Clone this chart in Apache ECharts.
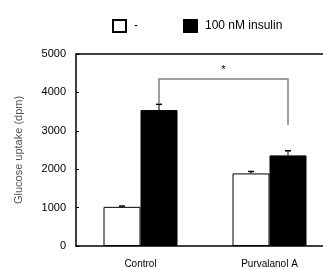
<!DOCTYPE html>
<html>
<head>
<meta charset="utf-8">
<script src="https://cdn.jsdelivr.net/npm/echarts@6/dist/echarts.min.js"></script>
<style>
  html, body { margin: 0; padding: 0; background: #fff; overflow: hidden; }
  #chart { width: 323px; height: 269px; }
</style>
</head>
<body>
<div id="chart"></div>
<script>
// data
const categories = ['Control', 'Purvalanol A'];
const seriesNames = ['-', '100 nM insulin'];
const basal = [1020, 1890];
const basalErr = [20, 50];
const insulin = [3540, 2360];
const insulinErr = [150, 120];
const yTicks = [0, 1000, 2000, 3000, 4000, 5000];
// significance bracket between the two insulin bars
const bracketTop = 4350;
const bracketLegs = [3700, 3150];

const barW = 37;

const chart = echarts.init(document.getElementById('chart'));

// error bars, shifted onto the left (-1) or right (+1) bar of each category
function errRender(side, vals, errs) {
  return function (params, api) {
    const i = api.value(0);
    const top = api.coord([i, vals[i] + errs[i]]);
    const base = api.coord([i, vals[i]]);
    const x = top[0] + side * barW / 2;
    return {
      type: 'group',
      children: [
        { type: 'line', shape: { x1: x, y1: base[1], x2: x, y2: top[1] }, style: { stroke: '#000', lineWidth: 1 } },
        { type: 'line', shape: { x1: x - 3, y1: top[1], x2: x + 3, y2: top[1] }, style: { stroke: '#000', lineWidth: 1.5 } }
      ]
    };
  };
}

function bracketRender(params, api) {
  const l = api.coord([0, bracketTop]);
  const r = api.coord([1, bracketTop]);
  const lx = l[0] + barW / 2;
  const rx = r[0] + barW / 2;
  const lb = api.coord([0, bracketLegs[0]])[1];
  const rb = api.coord([1, bracketLegs[1]])[1];
  return {
    type: 'group',
    children: [
      { type: 'polyline', shape: { points: [[lx, lb], [lx, l[1]], [rx, l[1]], [rx, rb]] }, style: { stroke: '#808080', lineWidth: 1.5, fill: null } },
      { type: 'text', style: { text: '*', x: (lx + rx) / 2, y: l[1] - 3, align: 'center', verticalAlign: 'bottom', fill: '#000', font: '11px "Liberation Sans", Arial' } }
    ]
  };
}

const option = {
  animation: false,
  textStyle: { fontFamily: '"Liberation Sans", Arial, sans-serif' },
  legend: {
    top: 19,
    left: 112,
    padding: 0,
    icon: 'rect',
    itemWidth: 13,
    itemHeight: 12,
    itemGap: 45,
    textStyle: { fontSize: 12, color: '#000', padding: [0, 0, 0, 3] },
    data: seriesNames
  },
  grid: {
    left: 76,
    right: -11,
    top: 54,
    bottom: 23,
    outerBoundsMode: 'none'
  },
  xAxis: [
    {
      type: 'category',
      data: categories,
      axisLine: { lineStyle: { color: '#000', width: 1.5 } },
      axisTick: { show: false },
      axisLabel: { color: '#000', fontSize: 10, margin: 13 }
    },
    {
      // top frame line only
      type: 'category',
      data: categories,
      position: 'top',
      axisLine: { lineStyle: { color: '#000', width: 1.5 } },
      axisTick: { show: false },
      axisLabel: { show: false }
    }
  ],
  yAxis: {
    type: 'value',
    min: yTicks[0],
    max: yTicks[yTicks.length - 1],
    interval: 1000,
    name: 'Glucose uptake (dpm)',
    nameLocation: 'middle',
    nameGap: 52,
    nameTextStyle: { color: '#555', fontSize: 11 },
    axisLine: { show: true, lineStyle: { color: '#000', width: 1.5 } },
    axisTick: { show: true, inside: true, length: 3, lineStyle: { color: '#000' } },
    axisLabel: { color: '#000', fontSize: 11, margin: 10, formatter: v => String(v) },
    splitLine: { show: false }
  },
  series: [
    {
      name: seriesNames[0],
      type: 'bar',
      data: basal,
      barWidth: barW,
      barGap: '0%',
      itemStyle: { color: '#fff', borderColor: '#000', borderWidth: 1 }
    },
    {
      name: seriesNames[1],
      type: 'bar',
      data: insulin,
      barWidth: barW,
      barGap: '0%',
      itemStyle: { color: '#000', borderColor: '#000', borderWidth: 1 }
    },
    {
      type: 'custom',
      renderItem: errRender(-1, basal, basalErr),
      data: categories.map((c, i) => [i]),
      z: 5
    },
    {
      type: 'custom',
      renderItem: errRender(1, insulin, insulinErr),
      data: categories.map((c, i) => [i]),
      z: 5
    },
    {
      type: 'custom',
      renderItem: bracketRender,
      data: [[0]],
      z: 6
    }
  ]
};

chart.setOption(option);
</script>
</body>
</html>
